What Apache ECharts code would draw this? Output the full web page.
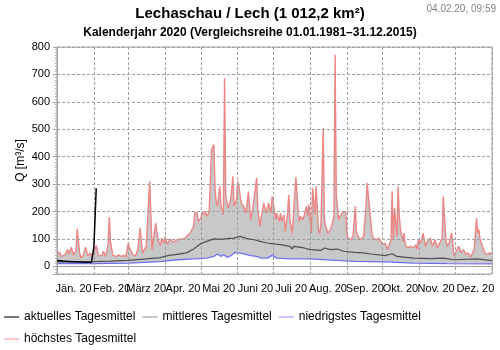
<!DOCTYPE html>
<html>
<head>
<meta charset="utf-8">
<script src="https://cdn.jsdelivr.net/npm/echarts@6/dist/echarts.min.js"></script>
<style>html,body{margin:0;padding:0;background:#fff}#c{width:500px;height:350px}</style>
</head>
<body>
<div id="c"></div>
<script>
// Month boundaries (day of year, 2020 leap year) and tick labels
const monthStarts = [0, 31, 60, 91, 121, 152, 182, 213, 244, 274, 305, 335, 366];
const monthLabels = ['Jän. 20', 'Feb. 20', 'März 20', 'Apr. 20', 'Mai 20', 'Juni 20', 'Juli 20', 'Aug. 20', 'Sep. 20', 'Okt. 20', 'Nov. 20', 'Dez. 20'];
const monthLabelDays = [14, 46, 75, 106, 136, 167, 197, 228, 259, 289, 319, 352];
const yTicks = [0, 100, 200, 300, 400, 500, 600, 700, 800];

// [day of year, Q m³/s]
const currentSeries = [[0,21],[5,19],[10,18],[15,17],[20,16],[25,15],[29,15],[30,16],[31,70],[32,175],[33,285]];

const meanSeries = [[0,16],[10,16],[20,16],[30,17],[45,19],[60,22],[75,27],[87,32],[94,40],[98,42],[109,49],[115,63],[121,83],[126,91],[132,100],[138,98],[143,101],[149,103],[154,109],[160,101],[166,97],[171,91],[177,85],[184,81],[188,79],[196,73],[198,63],[199,73],[208,67],[213,61],[222,58],[225,67],[230,61],[236,63],[241,55],[250,51],[258,49],[264,45],[276,39],[282,46],[286,36],[300,30],[314,28],[325,30],[334,24],[353,27],[366,21]];

const minSeries = [[0,10],[30,10],[60,12],[87,17],[101,24],[115,27],[126,30],[132,36],[135,45],[138,36],[140,43],[143,33],[146,38],[150,51],[153,49],[157,45],[163,39],[168,36],[172,30],[177,30],[181,40],[185,30],[196,27],[213,27],[235,22],[250,18],[276,16],[300,12],[328,10],[366,9]];

const maxSeries = [[0,36],[2,52],[4,35],[7,45],[9,62],[10,45],[12,70],[14,40],[16,60],[17,137],[19,50],[20,32],[22,38],[24,70],[26,38],[28,48],[30,35],[33,75],[35,38],[38,40],[39,55],[41,36],[43,80],[44,180],[45,90],[47,40],[50,36],[52,42],[54,36],[56,40],[58,35],[60,85],[61,67],[64,40],[66,38],[68,61],[70,140],[72,49],[75,73],[78,310],[80,61],[83,158],[85,97],[87,75],[88,103],[90,85],[91,109],[93,80],[95,100],[98,88],[101,97],[104,100],[107,100],[109,109],[112,121],[115,146],[116,197],[118,194],[119,164],[121,176],[122,197],[123,188],[125,200],[126,182],[128,197],[129,194],[130,425],[132,444],[133,280],[134,231],[135,219],[137,292],[138,219],[140,188],[141,687],[142,255],[144,213],[146,237],[148,328],[149,219],[151,243],[152,310],[153,292],[155,231],[157,219],[159,194],[161,273],[163,170],[165,219],[166,255],[168,322],[169,207],[171,146],[172,182],[174,231],[176,194],[178,231],[180,194],[181,255],[182,231],[184,170],[185,194],[187,164],[188,194],[189,164],[191,188],[192,128],[194,194],[195,261],[196,170],[198,121],[199,194],[201,326],[203,194],[204,164],[205,182],[207,170],[208,176],[210,219],[211,182],[212,225],[213,219],[214,121],[215,286],[217,188],[218,292],[220,134],[221,121],[222,146],[224,504],[225,170],[226,146],[228,121],[230,134],[231,146],[233,182],[234,772],[235,255],[237,170],[238,182],[240,194],[241,188],[243,200],[244,115],[245,103],[247,97],[249,109],[251,219],[252,121],[255,97],[258,109],[260,219],[261,304],[263,207],[265,121],[266,103],[269,97],[271,103],[272,103],[274,79],[275,73],[276,85],[278,61],[281,97],[282,273],[283,97],[284,213],[286,109],[287,292],[288,182],[289,134],[291,91],[292,121],[293,79],[295,67],[297,73],[300,67],[302,79],[303,63],[304,97],[306,85],[308,121],[310,73],[311,85],[314,103],[316,73],[318,97],[320,67],[322,85],[324,103],[325,255],[327,109],[328,73],[330,85],[332,121],[333,85],[334,36],[336,55],[338,73],[340,49],[342,61],[344,43],[346,49],[348,34],[351,61],[353,176],[354,121],[355,134],[356,97],[358,73],[360,49],[362,43],[364,49],[366,43]];

// axis categories: one per day
const days = [];
for (let i = 0; i <= 366; i++) days.push(String(i));
const labelAt = {};
monthLabels.forEach((m, i) => { labelAt[monthLabelDays[i]] = m; });

const FONT = 'Liberation Sans, Arial, sans-serif';
const legendCommon = {
  orient: 'horizontal', left: 3, padding: 0, itemWidth: 15, itemHeight: 12, itemGap: 6,
  textStyle: {fontSize: 12, color: '#000', fontFamily: FONT}
};
const legendItem = (name, color) => ({name, itemStyle: {color, opacity: 0}, lineStyle: {color, width: 2}});

const chart = echarts.init(document.getElementById('c'), null, {renderer: 'canvas'});
chart.setOption({
  animation: false,
  textStyle: {fontFamily: FONT},
  title: [
    {text: 'Lechaschau / Lech (1 012,2 km²)', left: 'center', top: 6, padding: 0,
     textStyle: {fontSize: 15, fontWeight: 'bold', color: '#000', fontFamily: FONT}},
    {text: 'Kalenderjahr 2020 (Vergleichsreihe 01.01.1981–31.12.2015)', left: 'center', top: 27, padding: 0,
     textStyle: {fontSize: 12, fontWeight: 'bold', color: '#000', fontFamily: FONT}},
    {text: '04.02.20, 09:59', right: 4, top: 4, padding: 0,
     textStyle: {fontSize: 10, fontWeight: 'normal', color: '#808080', fontFamily: FONT}}
  ],
  legend: [
    Object.assign({}, legendCommon, {top: 311, data: [
      legendItem('aktuelles Tagesmittel', '#777777'),
      legendItem('mittleres Tagesmittel', '#c8c8c8'),
      legendItem('niedrigstes Tagesmittel', '#c8c8ff')
    ]}),
    Object.assign({}, legendCommon, {top: 333, data: [
      legendItem('höchstes Tagesmittel', '#ffc8c8')
    ]})
  ],
  grid: {left: 57, right: 8, top: 47, bottom: 76, show: true, borderColor: '#a0a0a0', borderWidth: 1, backgroundColor: 'transparent'},
  xAxis: {
    type: 'category', data: days, boundaryGap: false, z: 10,
    axisLine: {lineStyle: {color: '#a0a0a0'}},
    axisTick: {show: true, length: 3, interval: (i) => monthStarts.indexOf(i) >= 0, lineStyle: {color: '#a0a0a0'}},
    axisLabel: {interval: (i) => labelAt[i] !== undefined, formatter: (v, i) => labelAt[i] || '',
      hideOverlap: false, showMaxLabel: true, showMinLabel: true,
      fontSize: 11, color: '#000', margin: 9, fontFamily: FONT},
    splitLine: {show: true, interval: (i) => monthStarts.indexOf(i) >= 0, lineStyle: {color: '#a0a0a0', type: [3, 2], width: 1}}
  },
  yAxis: {
    type: 'value', min: -28, max: 800, splitNumber: 8, z: 10,
    name: 'Q [m³/s]', nameLocation: 'middle', nameGap: 30, nameMoveOverlap: false,
    nameTextStyle: {fontSize: 12, color: '#000', fontFamily: FONT},
    axisLine: {show: true, lineStyle: {color: '#a0a0a0'}},
    axisTick: {show: true, length: 4, lineStyle: {color: '#a0a0a0'}},
    minorTick: {show: true, splitNumber: 10, length: 2, lineStyle: {color: '#b0b0b0'}},
    axisLabel: {formatter: (v) => (yTicks.indexOf(v) >= 0 ? String(v) : ''), fontSize: 11, color: '#000', margin: 7, fontFamily: FONT},
    splitLine: {show: true, lineStyle: {color: '#a0a0a0', type: [3, 2], width: 1}}
  },
  series: [
    {name: 'höchstes Tagesmittel', type: 'line', data: maxSeries, symbol: 'none', z: 2,
     lineStyle: {color: '#ee8585', width: 1.4}, itemStyle: {color: '#ee8585'},
     areaStyle: {color: '#c8c8c8', opacity: 1}},
    {name: 'niedrigstes Tagesmittel', type: 'line', data: minSeries, symbol: 'none', z: 3,
     lineStyle: {color: '#7070ee', width: 1.3}, itemStyle: {color: '#7070ee'},
     areaStyle: {color: '#ffffff', opacity: 1}},
    {name: 'mittleres Tagesmittel', type: 'line', data: meanSeries, symbol: 'none', z: 11,
     lineStyle: {color: '#505050', width: 1.2}, itemStyle: {color: '#505050'}},
    {name: 'aktuelles Tagesmittel', type: 'line', data: currentSeries, symbol: 'none', z: 12,
     lineStyle: {color: '#000', width: 1.5}, itemStyle: {color: '#000'}}
  ]
});
</script>
</body>
</html>
